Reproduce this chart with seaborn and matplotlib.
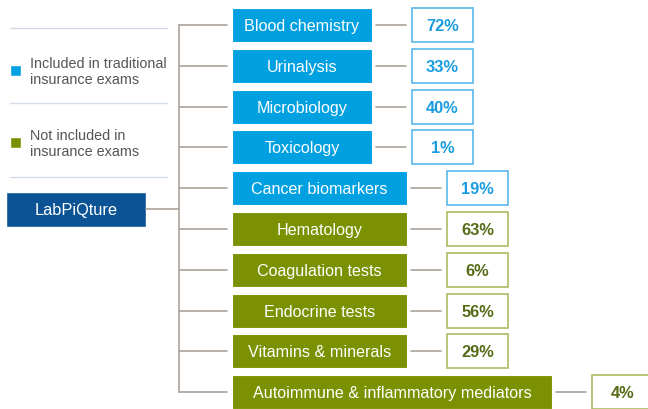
import matplotlib
matplotlib.use("Agg")
import matplotlib.pyplot as plt
import seaborn as sns

sns.set_theme(style="white")
plt.rcParams['font.family'] = ['Liberation Sans', 'DejaVu Sans']

# data
tests = ['Blood chemistry', 'Urinalysis', 'Microbiology', 'Toxicology',
         'Cancer biomarkers', 'Hematology', 'Coagulation tests',
         'Endocrine tests', 'Vitamins & minerals',
         'Autoimmune & inflammatory mediators']
pct = [72, 33, 40, 1, 19, 63, 6, 56, 29, 4]
included = [True, True, True, True, True, False, False, False, False, False]
legend_labels = ['Included in traditional\ninsurance exams',
                 'Not included in\ninsurance exams']
root_label = 'LabPiQture'

# colours
blue = '#00a0e1'
green = '#7b9102'
blue_txt = '#1a9de0'
green_txt = '#566b16'
blue_edge = '#5ab9ea'
green_edge = '#a9bd63'
navy = '#0b5394'
line_grey = '#aaa39b'
sep_col = '#d3dce6'

# layout (pixel coords)
row0, step, bh = 25, 40.8, 34
box_left = 232
box_right = [372] * 4 + [407] * 5 + [552]
trunk_x = 179

fig = plt.figure(figsize=(6.48, 4.09), dpi=100)
ax = fig.add_axes([0, 0, 1, 1])
ax.set_xlim(0, 648)
ax.set_ylim(409, 0)
ax.axis('off')

ys = [row0 + i * step for i in range(len(tests))]

# tree lines
ax.plot([trunk_x, trunk_x], [ys[0], ys[-1]], color=line_grey, lw=1.2)
for y in ys:
    ax.plot([trunk_x, box_left - 5], [y, y], color=line_grey, lw=1.2)

# category boxes
widths = [r - box_left for r in box_right]
cols = [blue if inc else green for inc in included]
ax.barh(ys, widths, left=box_left, height=bh, color=cols, edgecolor='white', lw=0.8)
for y, r, name in zip(ys, box_right, tests):
    ax.text((box_left + r) / 2, y + 1.5, name, ha='center', va='center',
            color='white', fontsize=11.6)

# value boxes
for y, r, p, inc in zip(ys, box_right, pct, included):
    ax.plot([r + 4, r + 34], [y, y], color=line_grey, lw=1.2)
    vl = r + 40
    ax.barh([y], [61], left=vl, height=bh, color='white',
            edgecolor=blue_edge if inc else green_edge, lw=1.2)
    ax.text(vl + 30.5, y + 1.5, f'{p}%', ha='center', va='center',
            color=blue_txt if inc else green_txt, fontsize=11.8,
            fontweight='bold')

# legend panel
for y in [28, 103, 177]:
    ax.plot([10, 167], [y, y], color=sep_col, lw=1)
for (sy, lab, c) in [(70, legend_labels[0], blue), (142, legend_labels[1], green)]:
    ax.barh([sy], [11], left=10, height=11, color=c)
    ax.text(30, sy + 2, lab, ha='left', va='center', color='#555555',
            fontsize=10.4, linespacing=1.2)

# root box
ax.barh([209], [140], left=6, height=35, color=navy)
ax.text(76, 210.5, root_label, ha='center', va='center', color='white',
        fontsize=11.8)
ax.plot([146, trunk_x], [209, 209], color=line_grey, lw=1.2)

fig.savefig('out.png', dpi=100)
